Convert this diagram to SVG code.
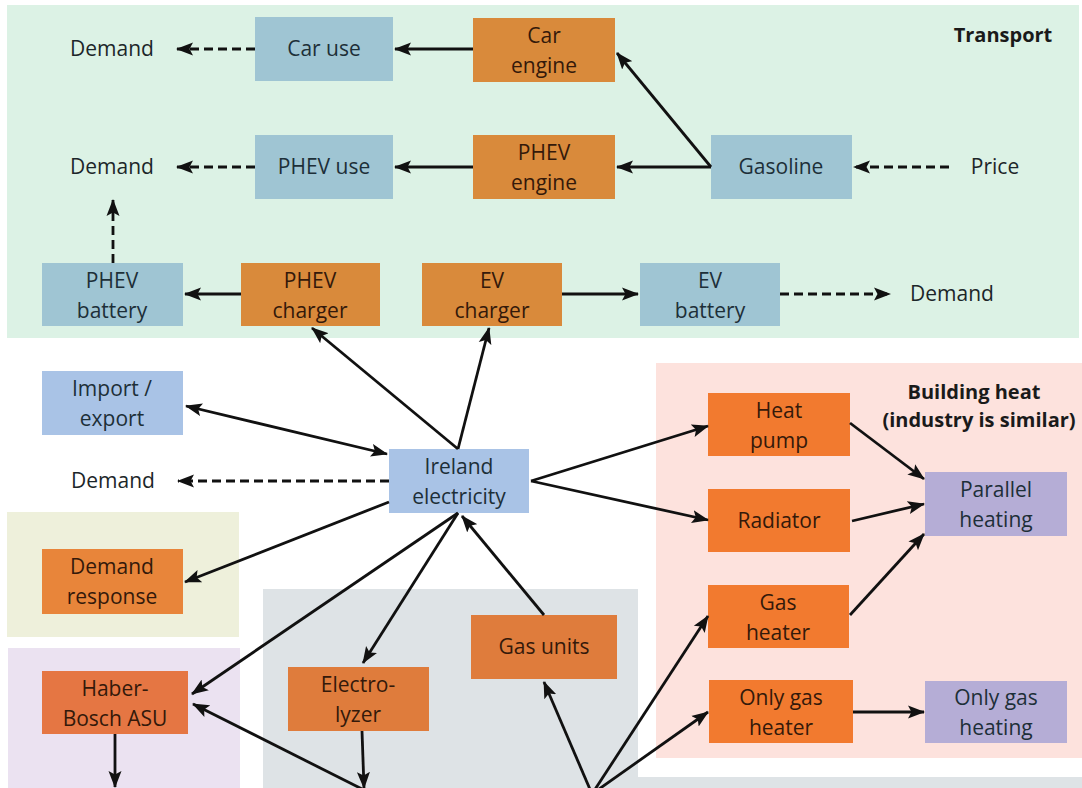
<svg xmlns="http://www.w3.org/2000/svg" width="1082" height="788" viewBox="0 0 1082 788">
<style>
text{font-family:"Open Sans","DejaVu Sans",sans-serif;font-size:21px;text-anchor:middle;fill:#1c2629}
.t{fill:#1d2f38}
.o{fill:#34190a}
.b{font-weight:bold;font-size:20px;fill:#1a1a1a}
.ln{fill:none;stroke:#111;stroke-width:2.8}
.d{stroke-dasharray:9 5}
.bl{fill:#9fc5d3}
.pw{fill:#a9c3e6}
.or{fill:#d98a3b}
.dr{fill:#e8853a}
.hb{fill:#e57643}
.el{fill:#df7c3c}
.ho{fill:#f27a2f}
.lv{fill:#b5add6}
</style>
<defs>
<marker id="ah" markerUnits="userSpaceOnUse" markerWidth="18" markerHeight="14" refX="16" refY="7" orient="auto-start-reverse">
<path d="M0,0.5 L17,7 L0,13.5 L3.5,7 z" fill="#111"/>
</marker>
</defs>
<rect width="1082" height="788" fill="#ffffff"/>
<g id="regions">
<rect x="7" y="5" width="1072" height="333" fill="#dcf2e5"/>
<rect x="656" y="363" width="426" height="395" fill="#fde2dd"/>
<rect x="7" y="512" width="232" height="125" fill="#eef0db"/>
<rect x="8" y="648" width="232" height="140" fill="#ebe2f1"/>
<rect x="263" y="589" width="375" height="199" fill="#dee3e6"/>
<rect x="638" y="777" width="444" height="11" fill="#dee3e6"/>
<text class="b" x="1003" y="42">Transport</text>
<text class="b" x="974" y="399">Building  heat</text>
<text class="b" x="979" y="427">(industry is similar)</text>
</g>
<g id="labels">
<text x="112" y="56">Demand</text>
<text x="112" y="174">Demand</text>
<text x="952" y="301">Demand</text>
<text x="995" y="174">Price</text>
<text x="113" y="488">Demand</text>
</g>
<g id="car_use"><rect class="bl" x="255" y="17" width="138" height="64"/><text class="t" x="324" y="56">Car use</text></g>
<g id="car_engine"><rect class="or" x="473" y="18" width="142" height="64"/><text class="o" x="544" y="43">Car</text><text class="o" x="544" y="73">engine</text></g>
<g id="phev_use"><rect class="bl" x="255" y="135" width="138" height="64"/><text class="t" x="324" y="174">PHEV use</text></g>
<g id="phev_engine"><rect class="or" x="473" y="135" width="142" height="64"/><text class="o" x="544" y="160">PHEV</text><text class="o" x="544" y="190">engine</text></g>
<g id="gasoline"><rect class="bl" x="711" y="135" width="141" height="64"/><text class="t" x="781" y="174">Gasoline</text></g>
<g id="phev_battery"><rect class="bl" x="42" y="263" width="141" height="63"/><text class="t" x="112" y="288">PHEV</text><text class="t" x="112" y="318">battery</text></g>
<g id="phev_charger"><rect class="or" x="241" y="263" width="139" height="63"/><text class="o" x="310" y="288">PHEV</text><text class="o" x="310" y="318">charger</text></g>
<g id="ev_charger"><rect class="or" x="422" y="263" width="140" height="63"/><text class="o" x="492" y="288">EV</text><text class="o" x="492" y="318">charger</text></g>
<g id="ev_battery"><rect class="bl" x="640" y="263" width="140" height="63"/><text class="t" x="710" y="288">EV</text><text class="t" x="710" y="318">battery</text></g>
<g id="import_export"><rect class="pw" x="42" y="371" width="141" height="64"/><text class="t" x="112" y="396">Import /</text><text class="t" x="112" y="426">export</text></g>
<g id="ireland_electricity"><rect class="pw" x="389" y="449" width="140" height="64"/><text class="t" x="459" y="474">Ireland</text><text class="t" x="459" y="504">electricity</text></g>
<g id="demand_response"><rect class="dr" x="42" y="549" width="141" height="65"/><text class="o" x="112" y="574">Demand</text><text class="o" x="112" y="604">response</text></g>
<g id="haber_bosch"><rect class="hb" x="42" y="671" width="146" height="63"/><text class="o" x="115" y="696">Haber-</text><text class="o" x="115" y="726">Bosch ASU</text></g>
<g id="electrolyzer"><rect class="el" x="288" y="667" width="141" height="64"/><text class="o" x="358" y="692">Electro-</text><text class="o" x="358" y="722">lyzer</text></g>
<g id="gas_units"><rect class="el" x="471" y="615" width="146" height="64"/><text class="o" x="544" y="654">Gas units</text></g>
<g id="heat_pump"><rect class="ho" x="708" y="393" width="142" height="63"/><text class="o" x="779" y="418">Heat</text><text class="o" x="779" y="448">pump</text></g>
<g id="radiator"><rect class="ho" x="708" y="489" width="142" height="63"/><text class="o" x="779" y="528">Radiator</text></g>
<g id="gas_heater"><rect class="ho" x="708" y="585" width="141" height="63"/><text class="o" x="778" y="610">Gas</text><text class="o" x="778" y="640">heater</text></g>
<g id="only_gas_heater"><rect class="ho" x="709" y="680" width="144" height="63"/><text class="o" x="781" y="705">Only gas</text><text class="o" x="781" y="735">heater</text></g>
<g id="parallel_heating"><rect class="lv" x="925" y="472" width="142" height="64"/><text class="t" x="996" y="497">Parallel</text><text class="t" x="996" y="527">heating</text></g>
<g id="only_gas_heating"><rect class="lv" x="925" y="681" width="142" height="62"/><text class="t" x="996" y="705">Only gas</text><text class="t" x="996" y="735">heating</text></g>
<g id="connectors">
<path class="ln d" d="M255,49 L177,49" marker-end="url(#ah)"/>
<path class="ln" d="M473,49 L395,49" marker-end="url(#ah)"/>
<path class="ln d" d="M255,167 L177,167" marker-end="url(#ah)"/>
<path class="ln" d="M473,167 L395,167" marker-end="url(#ah)"/>
<path class="ln" d="M711,167 L617,167" marker-end="url(#ah)"/>
<path class="ln" d="M711,167 L617,53" marker-end="url(#ah)"/>
<path class="ln d" d="M949,167 L854,167" marker-end="url(#ah)"/>
<path class="ln d" d="M113,263 L113,200" marker-end="url(#ah)"/>
<path class="ln" d="M241,294 L185,294" marker-end="url(#ah)"/>
<path class="ln" d="M562,294 L638,294" marker-end="url(#ah)"/>
<path class="ln d" d="M780,294 L890,294" marker-end="url(#ah)"/>
<path class="ln" d="M458,449 L312,328" marker-end="url(#ah)"/>
<path class="ln" d="M458,449 L489,328" marker-end="url(#ah)"/>
<path class="ln" d="M186,406 L387,454" marker-start="url(#ah)" marker-end="url(#ah)"/>
<path class="ln d" d="M389,481 L178,481" marker-end="url(#ah)"/>
<path class="ln" d="M389,502 L185,582" marker-end="url(#ah)"/>
<path class="ln" d="M458,513 L192,694" marker-end="url(#ah)"/>
<path class="ln" d="M458,513 L363,663" marker-end="url(#ah)"/>
<path class="ln" d="M544,615 L462,516" marker-end="url(#ah)"/>
<path class="ln" d="M531,481 L708,426" marker-end="url(#ah)"/>
<path class="ln" d="M531,481 L708,520" marker-end="url(#ah)"/>
<path class="ln" d="M850,423 L924,479" marker-end="url(#ah)"/>
<path class="ln" d="M852,521 L924,504" marker-end="url(#ah)"/>
<path class="ln" d="M850,615 L924,534" marker-end="url(#ah)"/>
<path class="ln" d="M853,712 L924,712" marker-end="url(#ah)"/>
<path class="ln" d="M115,734 L115,787" marker-end="url(#ah)"/>
<path class="ln" d="M362,731 L364,788" marker-end="url(#ah)"/>
<path class="ln" d="M368,792 L193,704" marker-end="url(#ah)"/>
<path class="ln" d="M592,794 L544,682" marker-end="url(#ah)"/>
<path class="ln" d="M592,794 L708,616" marker-end="url(#ah)"/>
<path class="ln" d="M592,794 L708,712" marker-end="url(#ah)"/>
</g>
</svg>
